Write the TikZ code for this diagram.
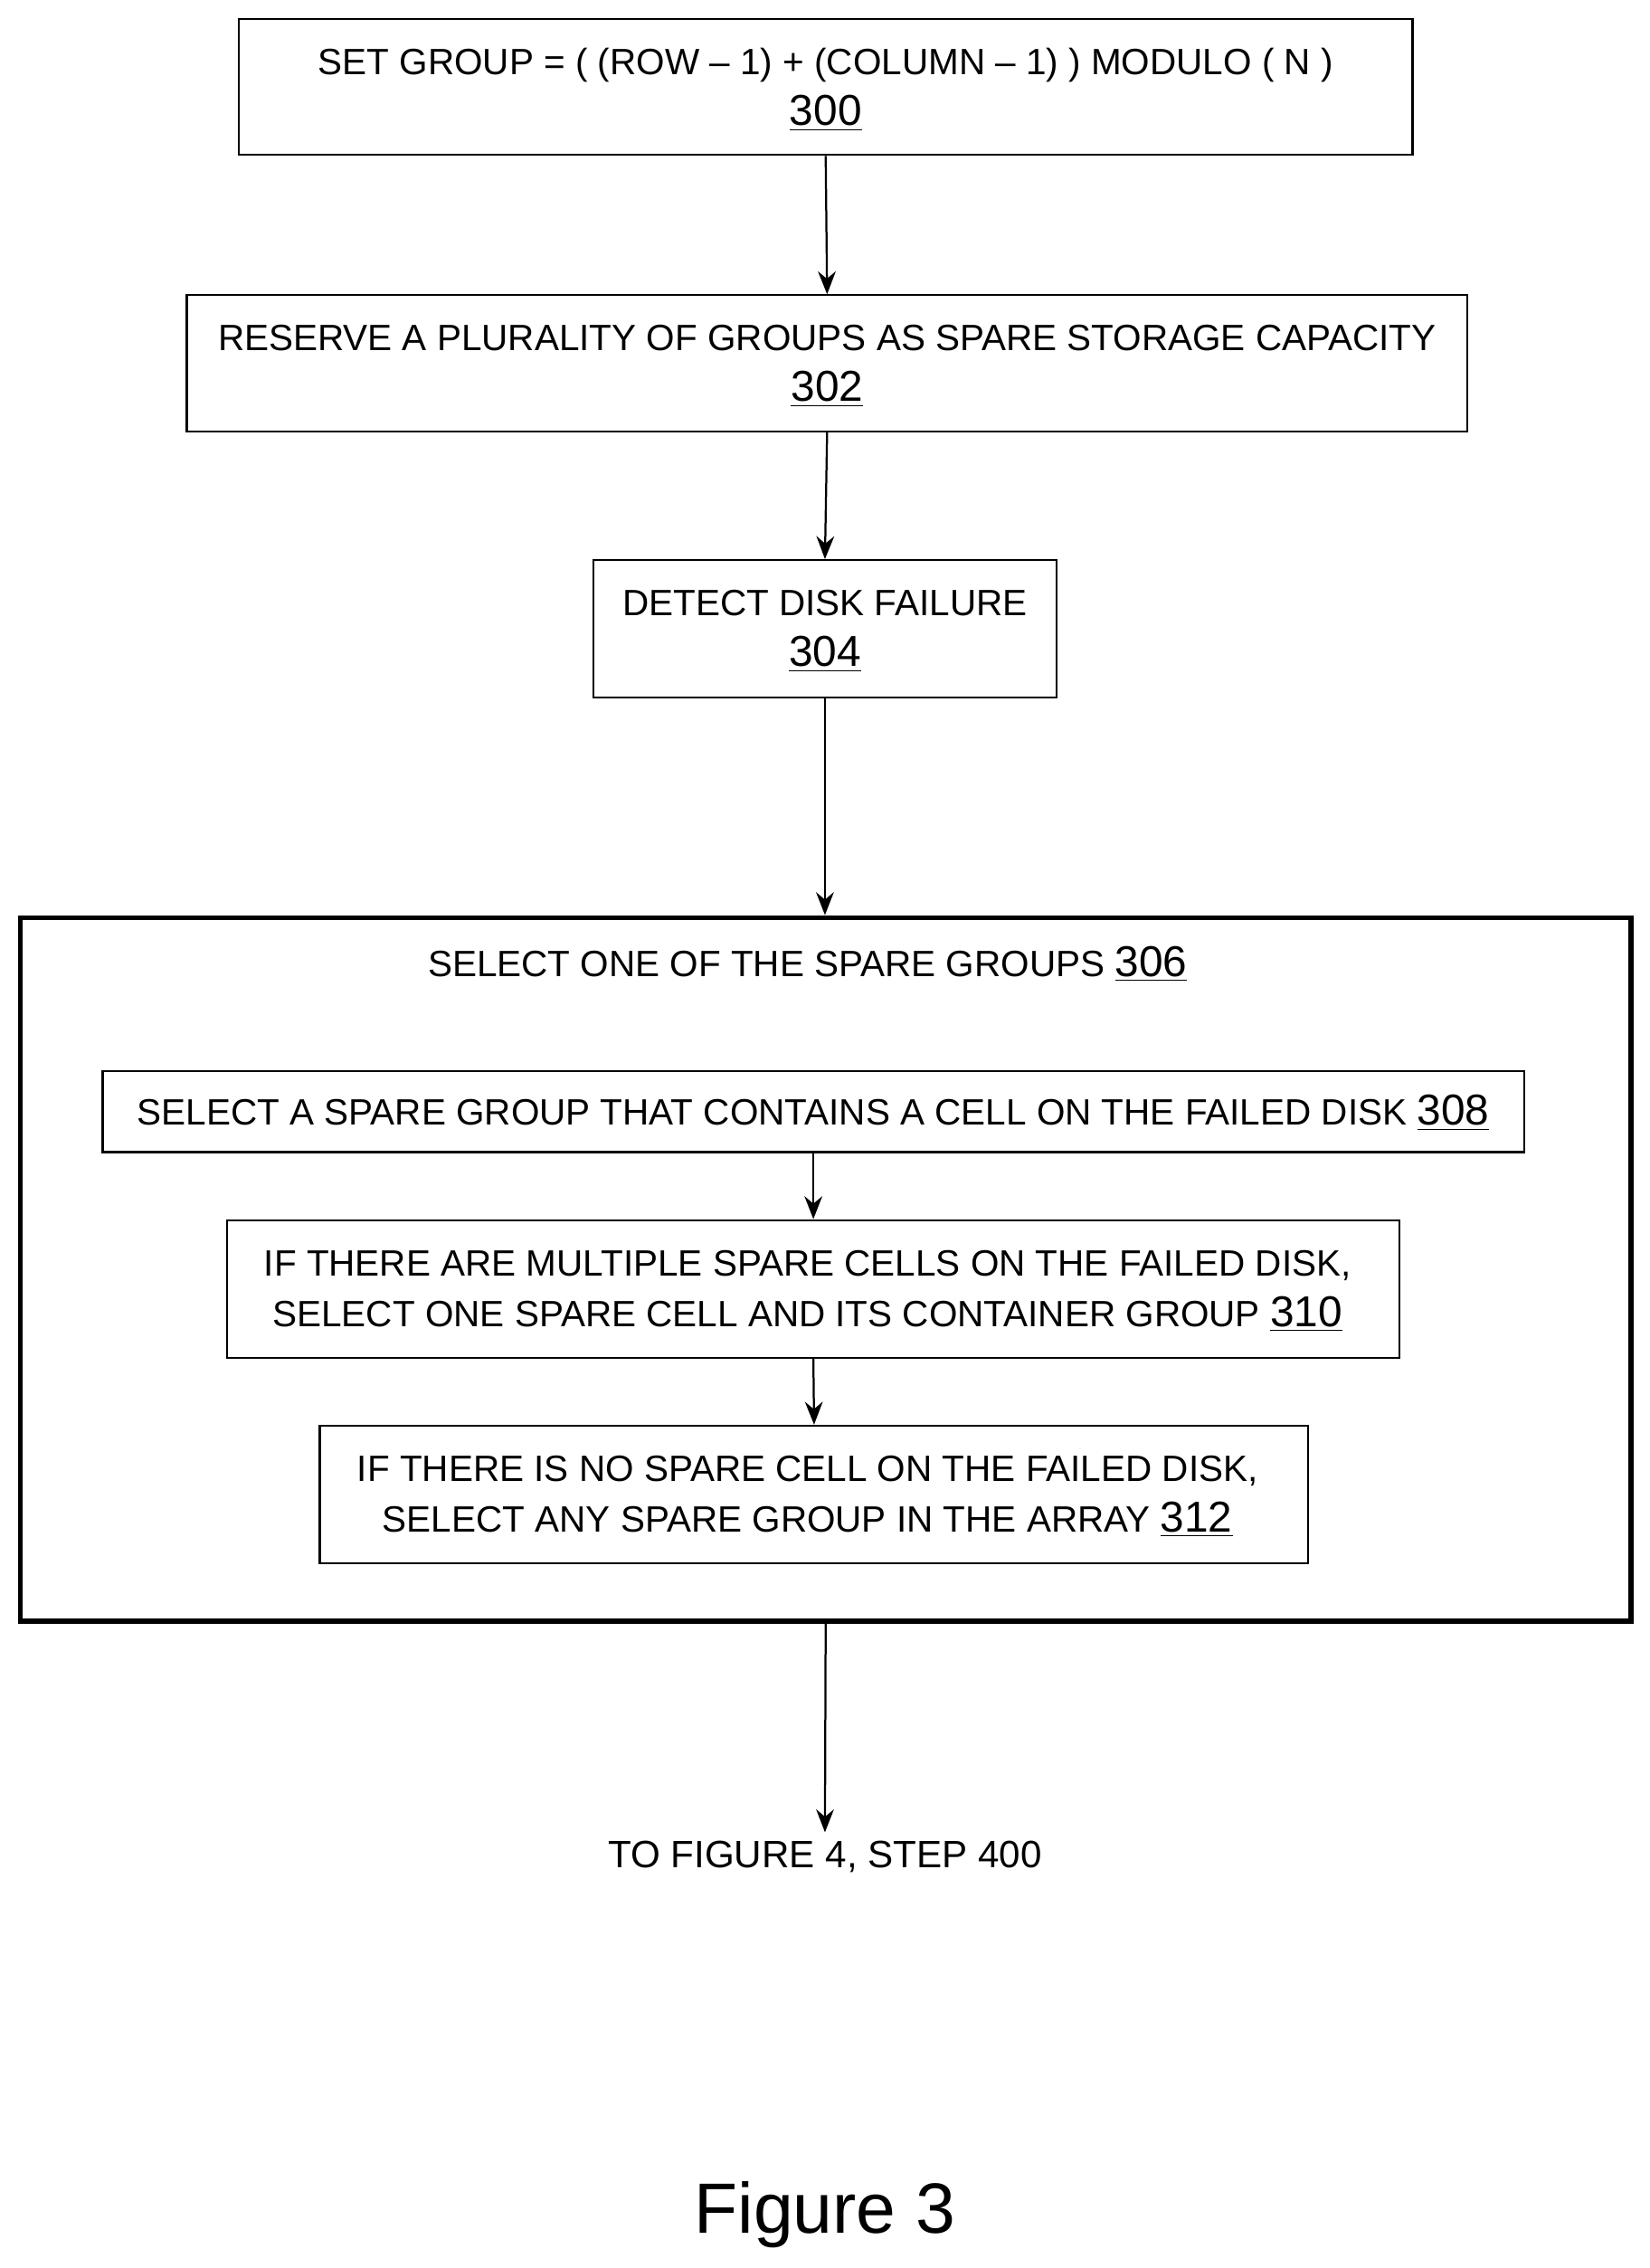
\documentclass[tikz,border=0pt]{standalone}
\usepackage{fontspec}
\usetikzlibrary{arrows.meta}
\setmainfont{Liberation Sans}
\newcommand{\num}[1]{{\fontsize{17}{19}\selectfont\underline{#1}}}
\begin{document}
\begin{tikzpicture}[x=0.02cm,y=-0.02cm,
  box/.style={draw,line width=0.8pt,inner sep=0pt},
  txt/.style={font=\fontsize{14.4}{20}\selectfont,align=center},
  arr/.style={-{Stealth[length=9pt,width=7pt]},line width=0.8pt}]
\useasboundingbox (0,0) rectangle (1140,1567);
\node[box,minimum width=811*0.02cm,minimum height=94*0.02cm] (b300) at (570.5,60) {};
\node[txt] at (570.5,62) {SET GROUP = ( (ROW -- 1) + (COLUMN -- 1) ) MODULO ( N )\\\num{300}};
\node[box,minimum width=885*0.02cm,minimum height=94*0.02cm] (b302) at (571.5,251) {};
\node[txt] at (571.5,253) {RESERVE A PLURALITY OF GROUPS AS SPARE STORAGE CAPACITY\\\num{302}};
\node[box,minimum width=320*0.02cm,minimum height=95*0.02cm] (b304) at (570,434.5) {};
\node[txt] at (570,436) {DETECT DISK FAILURE\\\num{304}};
\node[draw,line width=2pt,minimum width=1113*0.02cm,minimum height=486*0.02cm,inner sep=0pt] (b306) at (570.5,877) {};
\node[txt] (t306) at (558,666) {SELECT ONE OF THE SPARE GROUPS \num{306}};
\node[box,minimum width=982*0.02cm,minimum height=56*0.02cm] (b308) at (562,768) {};
\node[txt] at (562,769) {SELECT A SPARE GROUP THAT CONTAINS A CELL ON THE FAILED DISK \num{308}};
\node[box,minimum width=810*0.02cm,minimum height=95*0.02cm] (b310) at (562,890.5) {};
\node[txt] at (558,892) {IF THERE ARE MULTIPLE SPARE CELLS ON THE FAILED DISK,\\SELECT ONE SPARE CELL AND ITS CONTAINER GROUP \num{310}};
\node[box,minimum width=683*0.02cm,minimum height=95*0.02cm] (b312) at (562.5,1032.5) {};
\node[txt] at (558,1034) {IF THERE IS NO SPARE CELL ON THE FAILED DISK,\\SELECT ANY SPARE GROUP IN THE ARRAY \num{312}};
\node[txt,font=\fontsize{15}{17}\selectfont] (to) at (570,1283) {TO FIGURE 4, STEP 400};
\node[font=\fontsize{28}{30}\selectfont] (fig) at (570,1530) {Figure 3};
\draw[arr] (b300.south) -- (b302.north);
\draw[arr] (b302.south) -- (b304.north);
\draw[arr] (b304.south) -- (b306.north -| b304.south);
\draw[arr] (b308.south) -- (b310.north);
\draw[arr] (b310.south) -- (b312.north);
\draw[arr] (b306.south) -- (to.north);
\end{tikzpicture}
\end{document}
